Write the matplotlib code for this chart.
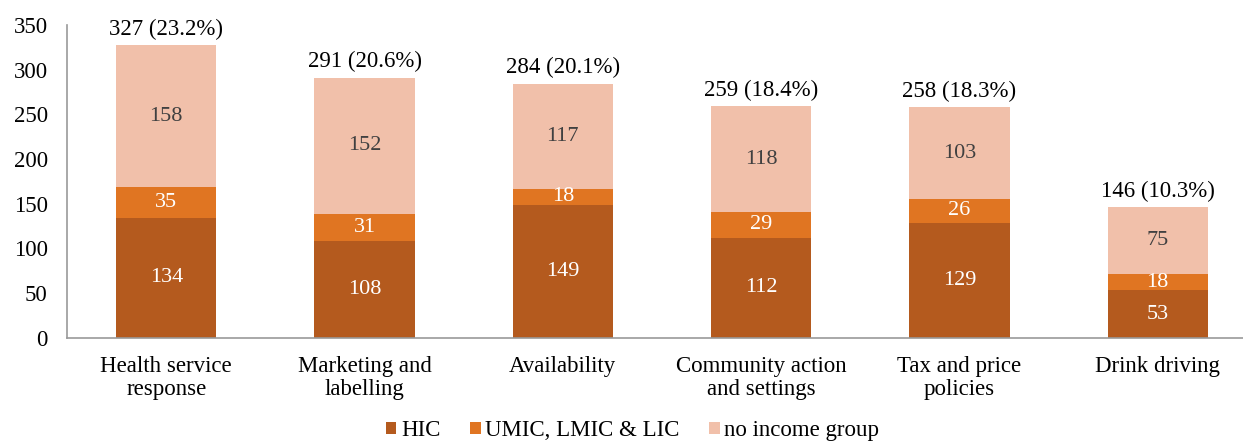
import matplotlib.pyplot as plt
import numpy as np

plt.rcParams['font.family'] = ['Liberation Serif', 'DejaVu Serif']

categories = ['Health service\nresponse', 'Marketing and\nlabelling', 'Availability',
              'Community action\nand settings', 'Tax and price\npolicies', 'Drink driving']
hic = [134, 108, 149, 112, 129, 53]
umic = [35, 31, 18, 29, 26, 18]
no_group = [158, 152, 117, 118, 103, 75]
total_labels = ['327 (23.2%)', '291 (20.6%)', '284 (20.1%)', '259 (18.4%)',
                '258 (18.3%)', '146 (10.3%)']

c_hic = '#B45A1E'
c_umic = '#E07522'
c_none = '#F1C0AA'
fs = 16.5

fig = plt.figure(figsize=(12.43, 4.44), dpi=100)
ax = fig.add_axes([0.054, 0.239, 0.946, 0.705])

x = np.arange(len(categories))
w = 0.505
hic = np.array(hic)
umic = np.array(umic)
no_group = np.array(no_group)

b1 = ax.bar(x, hic, w, color=c_hic, label='HIC')
b2 = ax.bar(x, umic, w, bottom=hic, color=c_umic, label='UMIC, LMIC & LIC')
b3 = ax.bar(x, no_group, w, bottom=hic + umic, color=c_none, label='no income group')

ax.bar_label(b1, label_type='center', color='white', fontsize=16)
ax.bar_label(b2, label_type='center', color='white', fontsize=16)
ax.bar_label(b3, label_type='center', color='#404040', fontsize=16)

tops = hic + umic + no_group
for xi, t, lab in zip(x, tops, total_labels):
    ax.annotate(lab, (xi, t), xytext=(0, 4), textcoords='offset points',
                ha='center', va='bottom', fontsize=fs, color='black')

ax.set_xlim(-0.5, 5.43)
ax.set_ylim(0, 350)
ax.set_yticks(range(0, 351, 50))
ax.set_xticks(x)
ax.set_xticklabels(categories, fontsize=fs, linespacing=1.1)
ax.tick_params(axis='y', length=0, labelsize=fs, pad=14)
ax.tick_params(axis='x', length=0, pad=13)
for s in ['top', 'right']:
    ax.spines[s].set_visible(False)
for s in ['left', 'bottom']:
    ax.spines[s].set_color('#999999')
    ax.spines[s].set_linewidth(1.2)

fig.legend(handles=[b1, b2, b3], loc='lower center', bbox_to_anchor=(0.509, -0.04),
           ncol=3, frameon=False, fontsize=fs, handlelength=0.45, handleheight=0.45,
           handletextpad=0.2, columnspacing=1.3)

fig.savefig('out.png', dpi=100)
